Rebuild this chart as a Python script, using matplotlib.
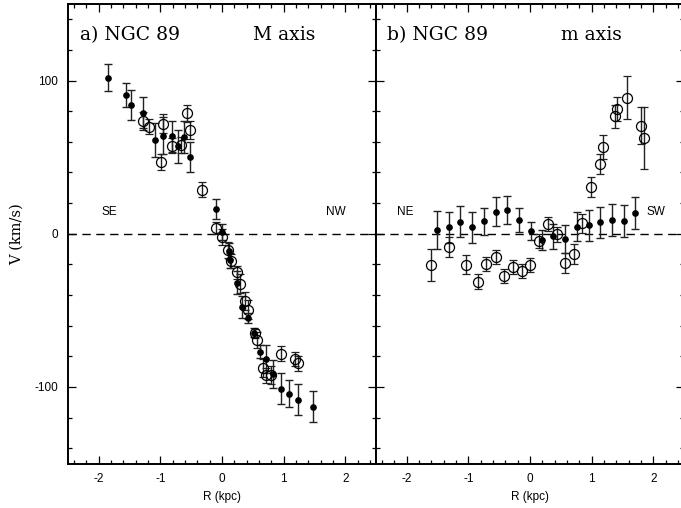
import matplotlib
matplotlib.use("Agg")
import matplotlib.pyplot as plt
import numpy as np
from matplotlib.ticker import MultipleLocator, FixedLocator

plt.rcParams["axes.unicode_minus"] = False

# ---- Data: panel a) major axis ----
a_fill_r = [-1.85, -1.56, -1.47, -1.28, -1.09, -0.95, -0.81, -0.71, -0.62, -0.52,
            -0.09, 0.00, 0.11, 0.13, 0.25, 0.33, 0.43, 0.52, 0.62, 0.72, 0.82,
            0.95, 1.09, 1.23, 1.48]
a_fill_v = [102, 90.5, 84, 79, 61.4, 64, 63.6, 57, 63, 50,
            16.3, 1.1, -11.3, -17.4, -31.9, -47.8, -55, -64.5, -76.9, -81.9, -91.4,
            -101.2, -104.4, -108.4, -112.9]
a_fill_e = [9, 8, 9.6, 10, 11, 12, 10, 11, 10.5, 9.6,
            6.7, 5.5, 5, 4.8, 7.6, 7.3, 3.5, 3.2, 4, 9, 9,
            10, 9, 10, 10]

a_open_r = [-1.28, -1.18, -0.99, -0.95, -0.81, -0.66, -0.57, -0.52, -0.32,
            -0.10, 0.00, 0.09, 0.14, 0.24, 0.29, 0.38, 0.42, 0.53, 0.57, 0.66,
            0.71, 0.80, 0.95, 1.19, 1.23]
a_open_v = [73.6, 70, 46.7, 71.9, 57.5, 58, 78.6, 67.8, 28.7,
            3.7, -2.1, -10.4, -17.8, -25.2, -32.6, -43.9, -49.5, -65, -69.3, -87.5,
            -92.5, -92.3, -78.2, -81.6, -84.5]
a_open_e = [6, 4.8, 5.4, 6, 5, 5, 5.4, 6, 5,
            4, 5, 5.3, 4.8, 4.3, 6, 6, 6, 3, 5, 6,
            5, 6, 4.7, 4.5, 5]

# ---- Data: panel b) minor axis ----
b_fill_r = [-1.51, -1.32, -1.13, -0.94, -0.75, -0.56, -0.37, -0.18, 0.01, 0.19,
            0.38, 0.57, 0.76, 0.95, 1.14, 1.33, 1.52, 1.71]
b_fill_v = [2.6, 4.1, 7.8, 4.1, 8.3, 14.5, 15.4, 8.9, 1.8, -4.1,
            -1.7, -3.5, 4.7, 5.4, 7.4, 8.9, 8.5, 13.7]
b_fill_e = [12.4, 10, 10.2, 10, 8.8, 9.2, 9.1, 7.8, 5.6, 6.7,
            8, 9.3, 9.7, 10, 10, 10.6, 10.5, 10.3]

b_open_r = [-1.61, -1.32, -1.04, -0.85, -0.71, -0.56, -0.42, -0.28, -0.13, 0.00,
            0.15, 0.29, 0.44, 0.57, 0.71, 0.85, 0.99, 1.13, 1.19, 1.38, 1.42,
            1.57, 1.80, 1.85]
b_open_v = [-20.4, -8.5, -20.4, -31.3, -19.7, -15.4, -27.6, -21.5, -24.5, -20.4,
            -4.8, 6.5, -0.2, -19.1, -13.2, 6.7, 30.6, 45.6, 56.5, 76.7, 81.6,
            88.8, 70.6, 62.5]
b_open_e = [10.5, 6.5, 6.2, 4.9, 4.4, 4.6, 4.6, 4.6, 4.6, 4.3,
            4.8, 4.6, 4.9, 6.5, 6.5, 6.3, 6.5, 6.6, 7.8, 7.6, 8,
            14, 12, 20]

xticks = [-2, -1, 0, 1, 2]
yticks = [-100, 0, 100]
ytick_labels = ["-100", "0", "100"]

serif = ["DejaVu Serif"]
sans = ["Liberation Sans", "DejaVu Sans"]

fig = plt.figure(figsize=(6.81, 5.08), dpi=100)
W, H = 681.0, 508.0
bot = 1 - 463.5 / H
top = 1 - 4 / H
axL = fig.add_axes([68 / W, bot, (376 - 68) / W, top - bot])
axR = fig.add_axes([376 / W, bot, (684 - 376) / W, top - bot])

def style(ax):
    ax.set_xlim(-2.5, 2.5)
    ax.set_ylim(-150, 150)
    for s in ax.spines.values():
        s.set_linewidth(1.4)
    ax.xaxis.set_major_locator(FixedLocator(xticks))
    ax.xaxis.set_minor_locator(MultipleLocator(0.2))
    ax.yaxis.set_major_locator(FixedLocator(yticks))
    ax.yaxis.set_minor_locator(MultipleLocator(20))
    ax.tick_params(which="both", direction="in", top=True, right=True,
                   left=True, bottom=True, width=0.9)
    ax.tick_params(which="major", length=5.8)
    ax.tick_params(which="minor", length=2.9)
    ax.axhline(0, color="black", lw=1.0, ls=(0, (6, 4)), zorder=1)
    for lab in ax.get_xticklabels():
        lab.set_family(sans)
        lab.set_fontsize(8.5)
    ax.tick_params(axis="x", pad=7)
    ax.set_xlabel("R (kpc)", family=sans, fontsize=8.5, labelpad=4)

def plot_pts(ax, r, v, e, filled):
    if filled:
        ax.errorbar(r, v, yerr=e, fmt="o", ms=3.8, mfc="black", mec="black",
                    ecolor="#222222", elinewidth=1.0, capsize=2.7, capthick=1.0,
                    zorder=3)
    else:
        ax.errorbar(r, v, yerr=e, fmt="o", ms=7.2, mfc="none", mec="black",
                    mew=0.9, ecolor="#222222", elinewidth=1.0, capsize=2.7,
                    capthick=1.0, zorder=3)

style(axL)
style(axR)

plot_pts(axL, a_fill_r, a_fill_v, a_fill_e, True)
plot_pts(axL, a_open_r, a_open_v, a_open_e, False)
plot_pts(axR, b_fill_r, b_fill_v, b_fill_e, True)
plot_pts(axR, b_open_r, b_open_v, b_open_e, False)

axL.set_yticklabels(ytick_labels, family=sans, fontsize=8.5)
axR.set_yticklabels([])
axL.tick_params(axis="y", pad=7)
axL.set_ylabel("V (km/s)", family=serif, fontsize=10.5, labelpad=8)

tfs = 13.5
axL.text(0.04, 0.932, "a) NGC 89", transform=axL.transAxes, family=serif,
         fontsize=tfs, va="center", ha="left")
axL.text(0.6, 0.932, "M axis", transform=axL.transAxes, family=serif,
         fontsize=tfs, va="center", ha="left")
axR.text(0.035, 0.932, "b) NGC 89", transform=axR.transAxes, family=serif,
         fontsize=tfs, va="center", ha="left")
axR.text(0.6, 0.932, "m axis", transform=axR.transAxes, family=serif,
         fontsize=tfs, va="center", ha="left")

axL.text(-1.83, 14, "SE", family=sans, fontsize=8.5, ha="center", va="center")
axL.text(1.85, 14, "NW", family=sans, fontsize=8.5, ha="center", va="center")
axR.text(-2.03, 14, "NE", family=sans, fontsize=8.5, ha="center", va="center")
axR.text(2.05, 14, "SW", family=sans, fontsize=8.5, ha="center", va="center")

fig.savefig("out.png", dpi=100)
